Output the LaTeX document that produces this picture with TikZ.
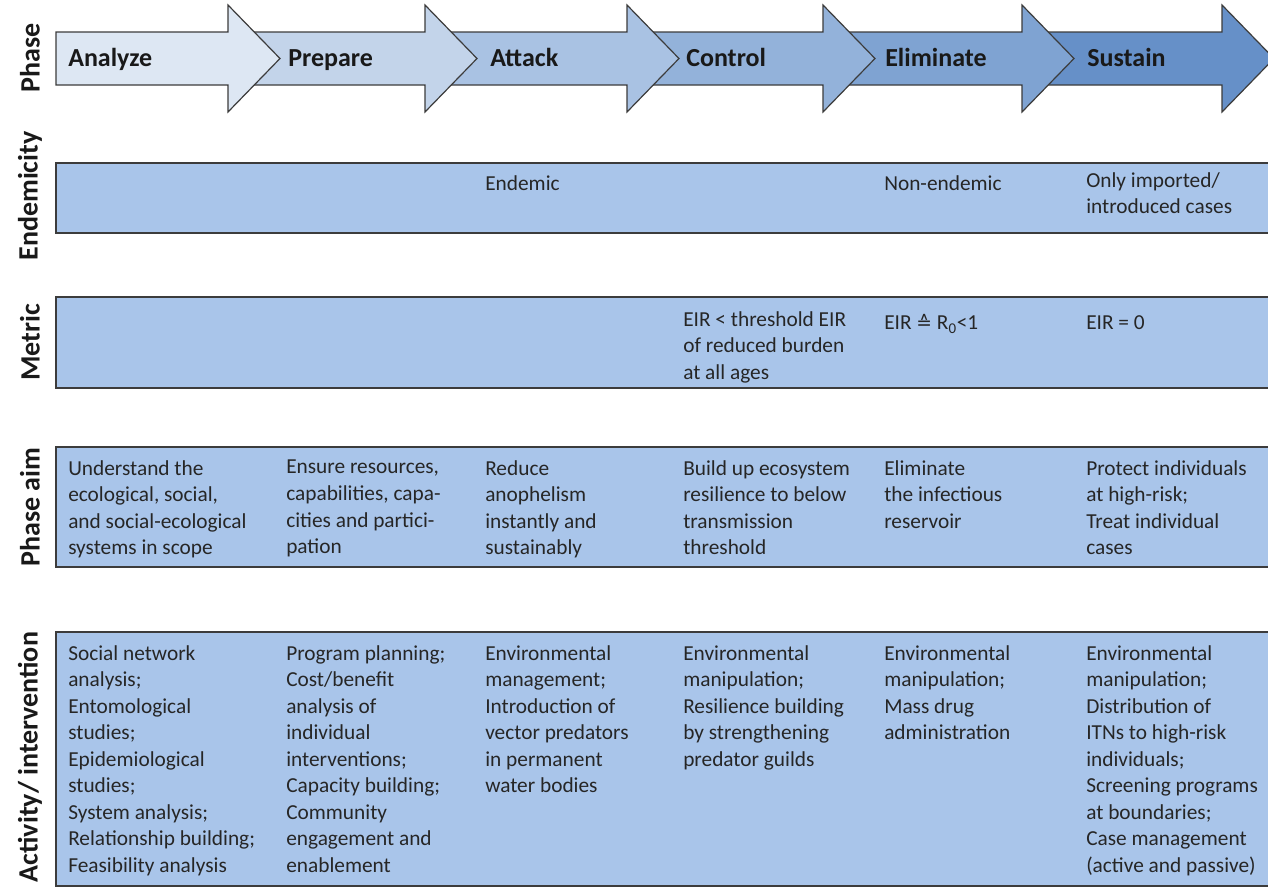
\documentclass[tikz,border=0pt]{standalone}
\usepackage{fontspec}
\setmainfont{Carlito}
\newfontfamily\symfont{DejaVu Sans}
\definecolor{phaseA}{HTML}{DDE7F3}
\definecolor{phaseB}{HTML}{C3D4EA}
\definecolor{phaseC}{HTML}{A9C2E3}
\definecolor{phaseD}{HTML}{93B2DA}
\definecolor{phaseE}{HTML}{7FA3D2}
\definecolor{phaseF}{HTML}{6690C8}
\definecolor{bandblue}{HTML}{A9C5EA}
\definecolor{inkgray}{HTML}{3C3C3C}
\newcommand\cellfont{\fontsize{16}{19.9}\selectfont}
\begin{document}
\begin{tikzpicture}[x=0.75pt,y=-0.75pt,
  band/.style={fill=bandblue, draw=inkgray, line width=1.1pt},
  arrowshape/.style={draw=inkgray, line width=0.9pt, line join=miter},
  cell/.style={anchor=north west, inner sep=0pt, align=left, font=\cellfont,
    text=black!85, execute at begin node=\strut},
  phasename/.style={anchor=base west, inner sep=0pt,
    font=\fontsize{19.5}{23}\selectfont\bfseries, text=black!90},
  rowname/.style={rotate=90, inner sep=0pt,
    font=\fontsize{21}{25}\selectfont\bfseries, text=black!90}]
\useasboundingbox (0,0) rectangle (1268,890);
\clip (0,0) rectangle (1268,890);

% phase arrows, drawn from last to first so each head lies over the next body
\foreach \s/\b/\c in {1022/1222/phaseF, 823/1022/phaseE, 627/823/phaseD,
                      425/627/phaseC, 228/425/phaseB, 56/228/phaseA}{
  \draw[arrowshape, fill=\c] (\s,32) -- (\b,32) -- (\b,5) -- (\b+52,58.5)
     -- (\b,112) -- (\b,85) -- (\s,85) -- cycle;
}

% phase names
\node[phasename] (pA) at (68,66) {Analyze};
\node[phasename] (pB) at (288,66) {Prepare};
\node[phasename] (pC) at (490,66) {Attack};
\node[phasename] (pD) at (686,66) {Control};
\node[phasename] (pE) at (885,66) {Eliminate};
\node[phasename] (pF) at (1087,66) {Sustain};

% row bands
\path[band] (56,163) rectangle (1300,233);
\path[band] (56,297) rectangle (1300,388);
\path[band] (56,447) rectangle (1300,567);
\path[band] (56,632) rectangle (1300,886);

% row names
\node[rowname] (rPhase) at (30,58) {Phase};
\node[rowname] (rEnd) at (30,196) {Endemicity};
\node[rowname] (rMet) at (30,342.5) {Metric};
\node[rowname] (rAim) at (30,507) {Phase aim};
\node[rowname] (rAct) at (30,757) {Activity/ intervention};

% endemicity
\node[cell] (eC) at (485,172) {Endemic};
\node[cell] (eE) at (884,172) {Non-endemic};
\node[cell] (eF) at (1086,172) {Only imported/\\introduced cases};

% metric
\node[cell] (mD) at (683,311) {EIR < threshold EIR\\of reduced burden\\at all ages};
\node[cell] (mE) at (884,311) {EIR {\symfont\fontsize{14}{16}\selectfont ≙} R\textsubscript{0}<1};
\node[cell] (mF) at (1086,311) {EIR = 0};

% phase aims
\node[cell] (aA) at (68,460) {Understand the\\ecological, social,\\and social-ecological\\systems in scope};
\node[cell] (aB) at (286,460) {Ensure resources,\\capabilities, capa-\\cities and partici-\\pation};
\node[cell] (aC) at (485,460) {Reduce\\anophelism\\instantly and\\sustainably};
\node[cell] (aD) at (683,460) {Build up ecosystem\\resilience to below\\transmission\\threshold};
\node[cell] (aE) at (884,460) {Eliminate\\the infectious\\reservoir};
\node[cell] (aF) at (1086,460) {Protect individuals\\at high-risk;\\Treat individual\\cases};

% activities and interventions
\node[cell] (iA) at (68,645) {Social network\\analysis;\\Entomological\\studies;\\Epidemiological\\studies;\\System analysis;\\Relationship building;\\Feasibility analysis};
\node[cell] (iB) at (286,645) {Program planning;\\Cost/benefit\\analysis of\\individual\\interventions;\\Capacity building;\\Community\\engagement and\\enablement};
\node[cell] (iC) at (485,645) {Environmental\\management;\\Introduction of\\vector predators\\in permanent\\water bodies};
\node[cell] (iD) at (683,645) {Environmental\\manipulation;\\Resilience building\\by strengthening\\predator guilds};
\node[cell] (iE) at (884,645) {Environmental\\manipulation;\\Mass drug\\administration};
\node[cell] (iF) at (1086,645) {Environmental\\manipulation;\\Distribution of\\ITNs to high-risk\\individuals;\\Screening programs\\at boundaries;\\Case management\\(active and passive)};
\end{tikzpicture}
\end{document}
